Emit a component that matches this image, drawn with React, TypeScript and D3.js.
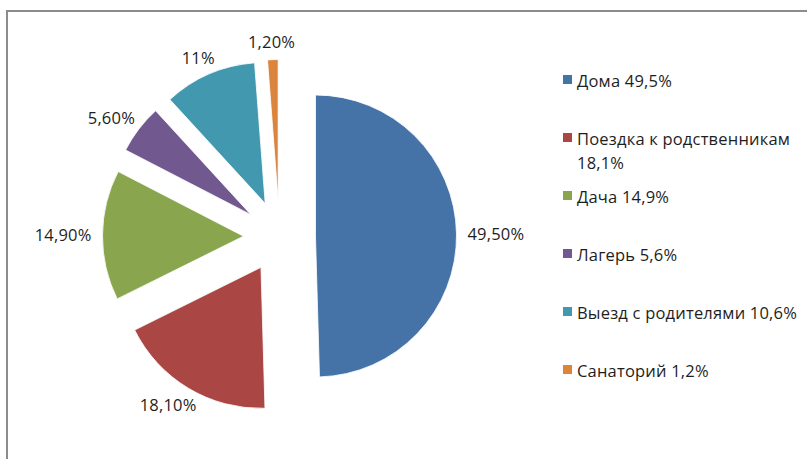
import { pie, arc, scaleOrdinal, PieArcDatum } from "d3";

const categories = ["Дома", "Поездка к родственникам", "Дача", "Лагерь", "Выезд с родителями", "Санаторий"];
const shares = [49.5, 18.1, 14.9, 5.6, 10.6, 1.2];
const dataLabels = ["49,50%", "18,10%", "14,90%", "5,60%", "11%", "1,20%"];
const palette = ["#4572A7", "#AA4643", "#89A54E", "#71588F", "#4198AF", "#DB843D"];

const W = 807;
const H = 459;
const FONT = "'Open Sans', 'Noto Sans', sans-serif";
const FONT_SIZE = 16.5;
const LETTER = 0.2;

// pie layout
const cx = 279.5;
const cy = 236.5;
const radius = 141;
const explode = 36;
const labelPad = 11;

// legend layout
const legendX = 563;
const legendTop = 80;
const legendStep = 58;
const legendLine = 24;
const legendMaxW = 232;

let ctx: CanvasRenderingContext2D | null = null;
function textWidth(s: string) {
  if (!ctx) ctx = document.createElement("canvas").getContext("2d");
  if (!ctx) return s.length * FONT_SIZE * 0.56;
  ctx.font = `${FONT_SIZE}px ${FONT}`;
  return ctx.measureText(s).width + LETTER * s.length;
}

function wrap(s: string, maxW: number) {
  const words = s.split(" ");
  const lines: string[] = [];
  let cur = "";
  words.forEach((w) => {
    const next = cur ? cur + " " + w : w;
    if (cur && textWidth(next) > maxW) {
      lines.push(cur);
      cur = w;
    } else cur = next;
  });
  if (cur) lines.push(cur);
  return lines;
}

const fmt = (v: number) => v.toFixed(1).replace(".", ",") + "%";

export default function App() {
  const color = scaleOrdinal<string, string>().domain(categories).range(palette);
  const arcs = pie<number>().sort(null).value((d) => d)(shares);
  const arcGen = arc<PieArcDatum<number>>().innerRadius(0).outerRadius(radius);

  return (
    <svg
      width={W}
      height={H}
      style={{ position: "absolute", left: 0, top: 0, background: "#fff" }}
      fontFamily={FONT}
      letterSpacing={LETTER}
    >
      <rect x={7} y={11} width={W + 20} height={H + 20} fill="#fff" stroke="#8c8c8c" strokeWidth={2} />

      <g transform={`translate(${cx},${cy})`}>
        {arcs.map((a, i) => {
          const mid = (a.startAngle + a.endAngle) / 2;
          const sx = Math.sin(mid);
          const sy = -Math.cos(mid);
          const ox = sx * explode;
          const oy = sy * explode;
          const w = textWidth(dataLabels[i]);
          const h = FONT_SIZE * 0.9;
          const lx = ox + sx * (radius + labelPad) + (sx * w) / 2;
          const ly = oy + sy * (radius + labelPad) + (sy * h) / 2;
          return (
            <g key={i}>
              <path
                d={arcGen(a) ?? ""}
                transform={`translate(${ox},${oy})`}
                fill={color(categories[i])}
                stroke="#fff"
                strokeWidth={0.8}
              />
              <text x={lx} y={ly} textAnchor="middle" dominantBaseline="central" fontSize={FONT_SIZE} fill="#1e1e1e">
                {dataLabels[i]}
              </text>
            </g>
          );
        })}
      </g>

      <g>
        {categories.map((c, i) => {
          const y = legendTop + i * legendStep;
          const lines = wrap(`${c} ${fmt(shares[i])}`, legendMaxW);
          return (
            <g key={c}>
              <rect x={legendX} y={y - 5} width={9} height={9} fill={color(c)} />
              <text x={legendX + 14} y={y} fontSize={FONT_SIZE} fill="#1e1e1e" dominantBaseline="central">
                {lines.map((l, j) => (
                  <tspan key={j} x={legendX + 14} dy={j === 0 ? 0 : legendLine}>
                    {l}
                  </tspan>
                ))}
              </text>
            </g>
          );
        })}
      </g>
    </svg>
  );
}
